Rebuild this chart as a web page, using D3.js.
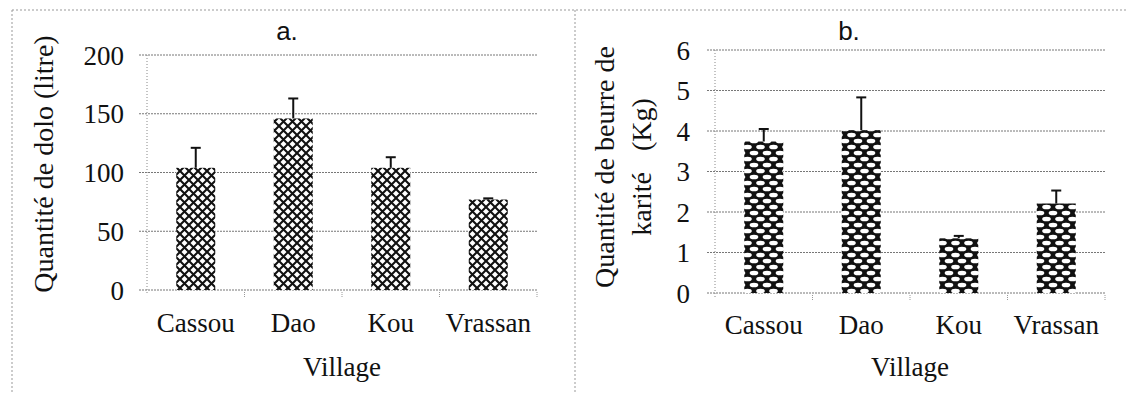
<!DOCTYPE html>
<html>
<head>
<meta charset="utf-8">
<script src="https://cdn.jsdelivr.net/npm/d3@7"></script>
</head>
<body style="margin:0;background:#fff">
<svg id="chart" width="1126" height="393" style="display:block"></svg>
<script>
// Villages surveyed
const villages = ["Cassou", "Dao", "Kou", "Vrassan"];

// a. Quantity of dolo (litre): means and standard errors
const doloMeans = [104, 146, 104, 77];
const doloErrors = [17, 17, 9, 1];
const doloTicks = [0, 50, 100, 150, 200];

// b. Quantity of shea butter (Kg): means and standard errors
const beurreMeans = [3.74, 4.02, 1.35, 2.21];
const beurreErrors = [0.31, 0.81, 0.06, 0.32];
const beurreTicks = [0, 1, 2, 3, 4, 5, 6];

const SERIF = '"Liberation Serif"';
const SANS = '"Liberation Sans"';

const svg = d3.select("#chart");

// Fill patterns
const defs = svg.append("defs");

// crossed diagonal lattice
const pa = defs.append("pattern")
  .attr("id", "lattice")
  .attr("patternUnits", "userSpaceOnUse")
  .attr("width", 9).attr("height", 9);
pa.append("rect").attr("width", 9).attr("height", 9).attr("fill", "#fff");
pa.append("path")
  .attr("d", "M0,0L9,9M9,0L0,9")
  .attr("stroke", "#111").attr("stroke-width", 2.1);

// black ground with staggered white ovals
const pb = defs.append("pattern")
  .attr("id", "ovals")
  .attr("patternUnits", "userSpaceOnUse")
  .attr("width", 13).attr("height", 12);
pb.append("rect").attr("width", 13).attr("height", 12).attr("fill", "#111");
[[6.5, 3], [0, 9], [13, 9]].forEach(([cx, cy]) => {
  pb.append("ellipse").attr("cx", cx).attr("cy", cy)
    .attr("rx", 4.3).attr("ry", 2.3).attr("fill", "#fff");
});

// Faint frame lines around the two panels
const frame = svg.append("g")
  .attr("stroke", "#999").attr("stroke-width", 1)
  .attr("stroke-dasharray", "2,2").attr("fill", "none");
frame.append("line").attr("x1", 12).attr("x2", 1126).attr("y1", 10).attr("y2", 10);
frame.append("line").attr("x1", 12).attr("x2", 12).attr("y1", 10).attr("y2", 393);
frame.append("line").attr("x1", 575).attr("x2", 575).attr("y1", 10).attr("y2", 393);

function label(sel, family, size) {
  return sel.attr("font-family", family).attr("font-size", size)
    .style("font-family", family).style("font-size", size + "px")
    .attr("fill", "#111");
}

function drawPanel(opt) {
  const g = svg.append("g");
  const x = d3.scaleBand()
    .domain(villages)
    .range([opt.left, opt.right])
    .paddingInner(0.6).paddingOuter(0.3);
  const y = d3.scaleLinear()
    .domain([opt.ticks[0], opt.ticks[opt.ticks.length - 1]])
    .range([opt.bottom, opt.top]);

  // gridlines
  g.append("g")
    .selectAll("line").data(opt.ticks).join("line")
    .attr("x1", opt.left - 8).attr("x2", opt.right)
    .attr("y1", d => y(d)).attr("y2", d => y(d))
    .attr("stroke", "#777").attr("stroke-width", 1)
    .attr("stroke-dasharray", "2,1");

  // left axis line
  g.append("line")
    .attr("x1", opt.left).attr("x2", opt.left)
    .attr("y1", opt.top).attr("y2", opt.bottom + 4)
    .attr("stroke", "#888").attr("stroke-dasharray", "1,2");

  // category separators under the base line
  const seps = villages.slice(1).map(v => x(v) - x.step() * x.paddingInner() / 2).concat([opt.right]);
  g.append("g").selectAll("line").data(seps).join("line")
    .attr("x1", d => d).attr("x2", d => d)
    .attr("y1", opt.bottom + 2).attr("y2", opt.bottom + 7)
    .attr("stroke", "#999").attr("stroke-dasharray", "1,1");

  // y tick labels
  const yAxis = d3.axisLeft(y).tickValues(opt.ticks).tickFormat(d3.format("d"))
    .tickSize(0).tickPadding(0);
  const ya = g.append("g")
    .attr("transform", `translate(${opt.tickX},0)`)
    .call(yAxis);
  label(ya, SERIF, 27);
  ya.select(".domain").remove();
  label(ya.selectAll("text"), SERIF, 27).attr("dy", "0.34em");

  // x category labels
  const xAxis = d3.axisBottom(x).tickSize(0).tickPadding(0);
  const xa = g.append("g")
    .attr("transform", `translate(0,${opt.catY})`)
    .call(xAxis);
  label(xa, SERIF, 27);
  xa.select(".domain").remove();
  label(xa.selectAll("text"), SERIF, 27).attr("dy", 0);

  // bars
  const rows = villages.map((v, i) => ({ v, m: opt.means[i], e: opt.errors[i] }));
  g.append("g").selectAll("rect").data(rows).join("rect")
    .attr("x", d => x(d.v))
    .attr("width", x.bandwidth())
    .attr("y", d => y(d.m))
    .attr("height", d => y(0) - y(d.m))
    .attr("fill", `url(#${opt.pattern})`);

  // error bars (upper half)
  const eb = g.append("g").attr("stroke", "#111").attr("stroke-width", 2);
  eb.selectAll("line.stem").data(rows).join("line")
    .attr("class", "stem")
    .attr("x1", d => x(d.v) + x.bandwidth() / 2)
    .attr("x2", d => x(d.v) + x.bandwidth() / 2)
    .attr("y1", d => y(d.m))
    .attr("y2", d => y(d.m + d.e));
  eb.selectAll("line.cap").data(rows).join("line")
    .attr("class", "cap")
    .attr("x1", d => x(d.v) + x.bandwidth() / 2 - 5)
    .attr("x2", d => x(d.v) + x.bandwidth() / 2 + 5)
    .attr("y1", d => y(d.m + d.e))
    .attr("y2", d => y(d.m + d.e));

  // panel letter
  label(g.append("text"), SANS, 26)
    .attr("x", opt.letterX).attr("y", 40)
    .attr("text-anchor", "middle")
    .text(opt.letter);

  // x axis title
  label(g.append("text"), SERIF, 27)
    .attr("x", (opt.left + opt.right) / 2).attr("y", 376)
    .attr("text-anchor", "middle")
    .text("Village");

  // y axis title (one or more lines)
  opt.yTitle.forEach((line, i) => {
    label(g.append("text"), SERIF, 28)
      .attr("transform", `translate(${opt.yTitleX[i]},${opt.yTitleY}) rotate(-90)`)
      .attr("text-anchor", "middle")
      .attr("xml:space", "preserve")
      .text(line);
  });
}

drawPanel({
  left: 147, right: 537, top: 55, bottom: 290,
  ticks: doloTicks, means: doloMeans, errors: doloErrors,
  pattern: "lattice", tickX: 124, catY: 332,
  letter: "a.", letterX: 287,
  yTitle: ["Quantité de dolo (litre)"], yTitleX: [53], yTitleY: 164
});

drawPanel({
  left: 715, right: 1105, top: 50, bottom: 293,
  ticks: beurreTicks, means: beurreMeans, errors: beurreErrors,
  pattern: "ovals", tickX: 690, catY: 334,
  letter: "b.", letterX: 849,
  yTitle: ["Quantité de beurre de", "karité   (Kg)"], yTitleX: [614, 651], yTitleY: 167
});
</script>
</body>
</html>
